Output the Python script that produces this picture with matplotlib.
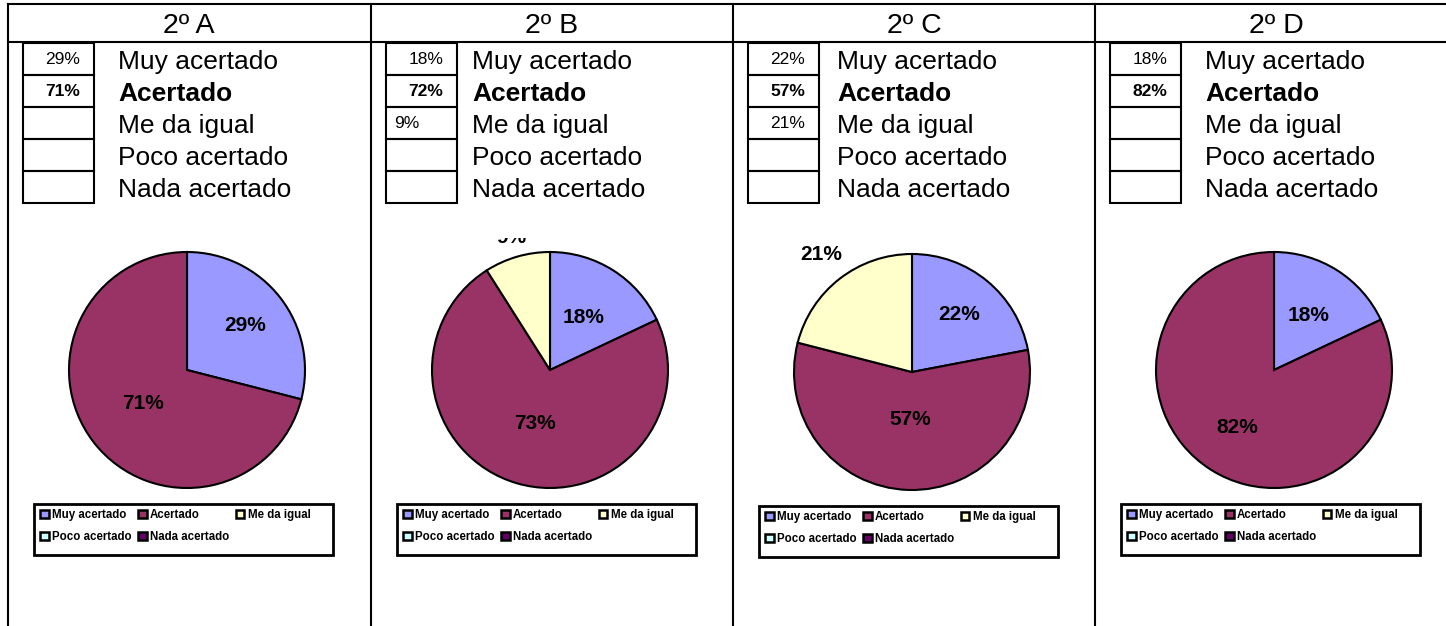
import matplotlib.pyplot as plt
from matplotlib.patches import Rectangle, Patch
import numpy as np

plt.rcParams['font.family'] = ['Liberation Sans', 'DejaVu Sans']

# data
groups = ['2º A', '2º B', '2º C', '2º D']
categories = ['Muy acertado', 'Acertado', 'Me da igual', 'Poco acertado', 'Nada acertado']
colors = ['#9999FF', '#993366', '#FFFFCC', '#CCFFFF', '#660066']

table_a = ['29%', '71%', '', '', '']
table_b = ['18%', '72%', '9%', '', '']
table_c = ['22%', '57%', '21%', '', '']
table_d = ['18%', '82%', '', '', '']

pie_a = [29, 71, 0, 0, 0]
pie_b = [18, 73, 9, 0, 0]
pie_c = [22, 57, 21, 0, 0]
pie_d = [18, 82, 0, 0, 0]

tables = [table_a, table_b, table_c, table_d]
pies = [pie_a, pie_b, pie_c, pie_d]

# label distance (fraction of radius) for each non-zero slice, like Excel "best fit"
label_dist = [[0.62, 0.47], [0.53, 0.47, 1.17], [0.63, 0.40, 1.26], [0.55, 0.58]]

W, H = 1446, 626
fig = plt.figure(figsize=(W / 100, H / 100), dpi=100)
base = fig.add_axes([0, 0, 1, 1])
base.set_xlim(0, W)
base.set_ylim(H, 0)
base.axis('off')

lw = 1.5
col_left = [8, 371, 733, 1095]
col_w = 362
label_off = [110, 101, 104, 110]
dy = [0, 0, 2, 0]
R = 118

# outer table grid
base.plot([col_left[0], W], [4, 4], color='black', lw=lw, solid_capstyle='projecting')
base.plot([col_left[0], W], [42, 42], color='black', lw=lw)
for x in col_left:
    base.plot([x, x], [4, H], color='black', lw=lw, solid_capstyle='projecting')

for i, g in enumerate(groups):
    x0 = col_left[i]
    base.text(x0 + 181, 33, g, ha='center', va='baseline', fontsize=20.5)

    # small percentage table + category labels
    bx0, bx1 = x0 + 15, x0 + 86
    for r in range(5):
        y = 43 + 32 * r
        base.add_patch(Rectangle((bx0, y), bx1 - bx0, 32, fill=False, lw=lw, ec='black'))
        weight = 'bold' if r == 1 else 'normal'
        txt = tables[i][r]
        if txt:
            if len(txt) < 3:
                base.text(bx0 + 8, y + 21, txt, ha='left', va='baseline',
                          fontsize=12.5, fontweight=weight)
            else:
                base.text(bx1 - 14, y + 21, txt, ha='right', va='baseline',
                          fontsize=12.5, fontweight=weight)
        base.text(x0 + label_off[i], y + 26, categories[r], ha='left', va='baseline',
                  fontsize=19, fontweight=weight)

    # pie chart
    px0, px1 = x0 + 4, x0 + col_w - 4
    py0, py1 = 238, 500
    ax = fig.add_axes([px0 / W, 1 - py1 / H, (px1 - px0) / W, (py1 - py0) / H])
    vals = [v for v in pies[i] if v > 0]
    cols = [c for v, c in zip(pies[i], colors) if v > 0]
    cx = x0 + 179
    cy = H - (370 + dy[i])
    wedges, _ = ax.pie(vals, colors=cols, startangle=90, counterclock=False,
                       radius=R, center=(cx, cy),
                       wedgeprops=dict(edgecolor='black', linewidth=1.5))
    ax.set_xlim(px0, px1)
    ax.set_ylim(H - py1, H - py0)
    ax.set_aspect('auto')
    ax.axis('off')
    for w, d, v in zip(wedges, label_dist[i], vals):
        th = np.deg2rad((w.theta1 + w.theta2) / 2)
        ax.text(cx + d * R * np.cos(th), cy + d * R * np.sin(th), f'{v}%',
                ha='center', va='center', fontsize=15, fontweight='bold', clip_on=True)

    # legend box
    lx0, ly0 = x0 + 26, 504 + dy[i]
    base.add_patch(Rectangle((lx0, ly0), 299, 51, fill=False, lw=2, ec='black'))
    handles = [Patch(facecolor=c, edgecolor='black', lw=1.8) for c in colors]
    order = [0, 3, 1, 4, 2]
    fig.legend([handles[k] for k in order], [categories[k] for k in order],
               loc='upper left', bbox_to_anchor=((lx0 + 6) / W, 1 - (ly0 + 5) / H),
               bbox_transform=fig.transFigure, ncol=3, frameon=False,
               prop=dict(weight='bold', size=8.3), handlelength=0.75, handleheight=0.75,
               handletextpad=0.3, columnspacing=0.55, labelspacing=0.85,
               borderpad=0, borderaxespad=0)

fig.savefig('out.png', dpi=100)
